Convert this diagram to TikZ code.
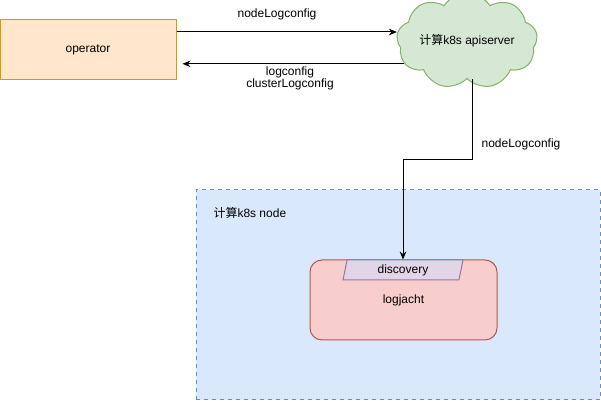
\documentclass[tikz,border=0pt]{standalone}
\usepackage{fontspec}
\setmainfont{Liberation Sans}
\newfontfamily\cjk{Noto Sans CJK SC}
\usetikzlibrary{shapes.geometric, shapes.symbols, arrows.meta}
\definecolor{opfill}{HTML}{FFE6CC}
\definecolor{opdraw}{HTML}{D79B00}
\definecolor{apifill}{HTML}{D5E8D4}
\definecolor{apidraw}{HTML}{82B366}
\definecolor{k8sfill}{HTML}{DAE8FC}
\definecolor{k8sdraw}{HTML}{6C8EBF}
\definecolor{jachtfill}{HTML}{F8CECC}
\definecolor{jachtdraw}{HTML}{B85450}
\definecolor{discfill}{HTML}{E1D5E7}
\definecolor{discdraw}{HTML}{9673A6}

\begin{document}
\begin{tikzpicture}[>={Stealth[length=6pt,width=5pt]}, x=0.75pt, y=-0.75pt,
  font=\fontsize{9}{10.5}\selectfont, line width=0.75pt,
  box/.style={draw, minimum width=#1, inner sep=0pt},
  flowlabel/.style={inner sep=1pt, align=center}]
\useasboundingbox (0,0) rectangle (601,409);
% compute node area
\node[box=303pt, draw=k8sdraw, fill=k8sfill, dashed, minimum height=157.5pt] (k8snode) at (398,295) {};
\node[anchor=west, inner sep=0pt] (k8slabel) at (213,213) {{\cjk 计算}k8s node};
% operator and apiserver
\node[box=132pt, draw=opdraw, fill=opfill, minimum height=45pt] (op) at (88,50) {operator};
\node[cloud, cloud puffs=9, cloud puff arc=115, aspect=1.8, draw=apidraw, fill=apifill,
      minimum width=104pt, minimum height=58pt, inner sep=0pt] (api) at (467,41) {{\cjk 计算}k8s apiserver};
% logjacht with discovery
\node[box=140.25pt, draw=jachtdraw, fill=jachtfill, rounded corners=9pt, minimum height=60pt] (jacht) at (403.5,300) {logjacht};
\node[trapezium, trapezium left angle=70, trapezium right angle=110, trapezium stretches body,
      draw=discdraw, fill=discfill, minimum width=90pt, minimum height=15pt, inner sep=0pt] (disc) at (403,270) {discovery};
% config flows
\draw[->] ([yshift=13.5pt]op.east) -- ([yshift=13.5pt]op.east -| api.west);
\node[flowlabel] (toplabel) at (277,14) {nodeLogconfig};
\draw[->] (api.200) -- ([xshift=4.5pt]op.east |- api.200);
\node[flowlabel, font=\fontsize{9}{9}\selectfont] (backlabel) at (290,78) {logconfig\\clusterLogconfig};
\draw[->] ([xshift=3.75pt]api.south) -- ++(0,80) -| (disc.north);
\node[flowlabel] (downlabel) at (521,144) {nodeLogconfig};
\end{tikzpicture}
\end{document}
